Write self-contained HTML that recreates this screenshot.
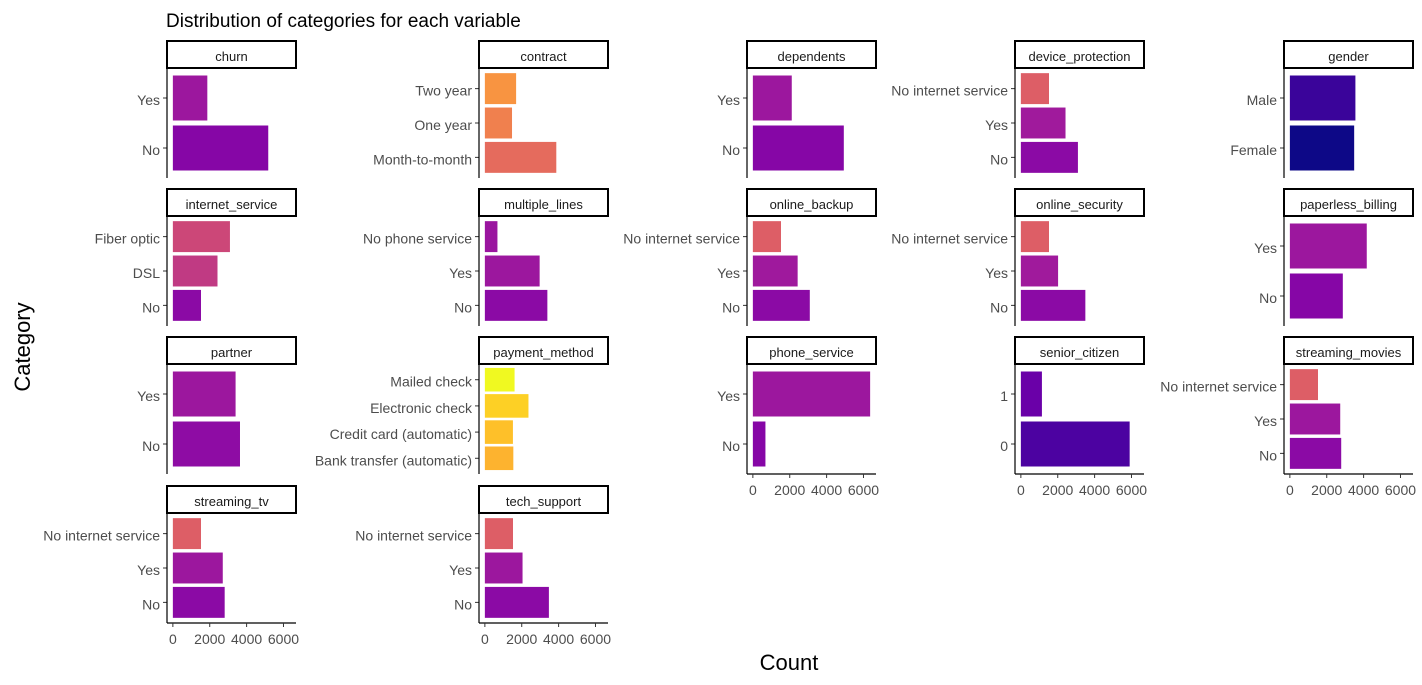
<!DOCTYPE html>
<html><head><meta charset="utf-8">
<style>
body{margin:0;background:#fff;}
svg{display:block;font-family:"Liberation Sans",Arial,sans-serif;}
</style></head>
<body>
<svg id="c" width="1422" height="685" xmlns="http://www.w3.org/2000/svg">
<rect width="1422" height="685" fill="#fff"/>
<text x="166" y="27" font-size="19" fill="#000">Distribution of categories for each variable</text>
<text transform="translate(30,347) rotate(-90)" text-anchor="middle" font-size="22" fill="#000">Category</text>
<text x="789" y="670" text-anchor="middle" font-size="22" fill="#000">Count</text>
</svg>
<script>
const variables=["churn","contract","dependents","device_protection","gender","internet_service","multiple_lines","online_backup","online_security","paperless_billing","partner","payment_method","phone_service","senior_citizen","streaming_movies","streaming_tv","tech_support"];
const categories=[["No","Yes"],["Month-to-month","One year","Two year"],["No","Yes"],["No","Yes","No internet service"],["Female","Male"],["No","DSL","Fiber optic"],["No","Yes","No phone service"],["No","Yes","No internet service"],["No","Yes","No internet service"],["No","Yes"],["No","Yes"],["Bank transfer (automatic)","Credit card (automatic)","Electronic check","Mailed check"],["No","Yes"],["0","1"],["No","Yes","No internet service"],["No","Yes","No internet service"],["No","Yes","No internet service"]];
const counts=[[5174,1869],[3875,1473,1695],[4933,2110],[3095,2422,1526],[3488,3555],[1526,2421,3096],[3390,2971,682],[3088,2429,1526],[3498,2019,1526],[2872,4171],[3641,3402],[1544,1522,2365,1612],[682,6361],[5901,1142],[2785,2732,1526],[2810,2707,1526],[3473,2044,1526]];
const colors=[["#8606a6","#9c179e"],["#e56b5d","#f0804e","#f89441"],["#8606a6","#9c179e"],["#8b0aa5","#a01a9c","#dd5e66"],["#0d0887","#3a049a"],["#8b0aa5","#c03a83","#cc4778"],["#8b0aa5","#9c179e","#9a159f"],["#8b0aa5","#9f199d","#dd5e66"],["#8b0aa5","#a01a9c","#dd5e66"],["#8606a6","#9c179e"],["#8e0ca4","#9c179e"],["#fdb32f","#fec029","#fdd025","#f0f921"],["#8606a6","#9c179e"],["#4c02a1","#6a00a8"],["#8b0aa5","#9c179e","#dd5e66"],["#8b0aa5","#9c179e","#dd5e66"],["#8b0aa5","#9c179e","#dd5e66"]];
const xTicks=[0,2000,4000,6000];
const NS="http://www.w3.org/2000/svg";
const svg=document.getElementById('c');
const colL=[167,479,747,1015,1284], rowT=[68,216,364,513], PW=129, PH=110;
const maxV=Math.max(...counts.flat());
function mk(t,a,p){const e=document.createElementNS(NS,t);for(const k in a)e.setAttribute(k,a[k]);(p||svg).appendChild(e);return e;}
function xs(v,L){return L+PW*(v+0.05*maxV)/(maxV*1.1);}
variables.forEach((vn,i)=>{
  const col=i%5,row=Math.floor(i/5),L=colL[col],T=rowT[row];
  const g=mk('g',{});
  
  
  const s=mk('rect',{x:L,y:T-27,width:PW,height:27,fill:'#fff',stroke:'#000','stroke-width':2},g);
  
  
  const st=mk('text',{x:L+PW/2,y:T-7,'text-anchor':'middle','font-size':13,fill:'#1a1a1a'},g);
  st.textContent=vn;
  
  
  const cats=categories[i],n=cats.length,unit=PH/(n-1+1.2);
  const ys=k=>T+PH-(k+0.6)*unit;
  cats.forEach((c,k)=>{
    const y=ys(k),v=counts[i][k];
    const b=mk('rect',{x:xs(0,L),y:y-0.45*unit,width:xs(v,L)-xs(0,L),height:0.9*unit,fill:colors[i][k]},g);
    
    
    mk('line',{x1:L-4,x2:L,y1:y,y2:y,stroke:'#333'},g);
    const lt=mk('text',{x:L-7,y:y+7,'text-anchor':'end','font-size':14,fill:'#4d4d4d'},g);
    lt.textContent=c;
    
    
  });
  mk('line',{x1:L,x2:L,y1:T,y2:T+PH,stroke:'#000','stroke-width':1.2},g);
  const showX=(row===3)||(row===2&&col>=2);
  if(showX){
    mk('line',{x1:L,x2:L+PW,y1:T+PH,y2:T+PH,stroke:'#000','stroke-width':1.2},g);
    xTicks.forEach(t=>{
      const x=xs(t,L);
      mk('line',{x1:x,x2:x,y1:T+PH,y2:T+PH+4,stroke:'#333'},g);
      const tt=mk('text',{x:x,y:T+PH+21,'text-anchor':'middle','font-size':14,fill:'#4d4d4d'},g);
      tt.textContent=t;
      
      
    });
  }
});
</script>
</body></html>
